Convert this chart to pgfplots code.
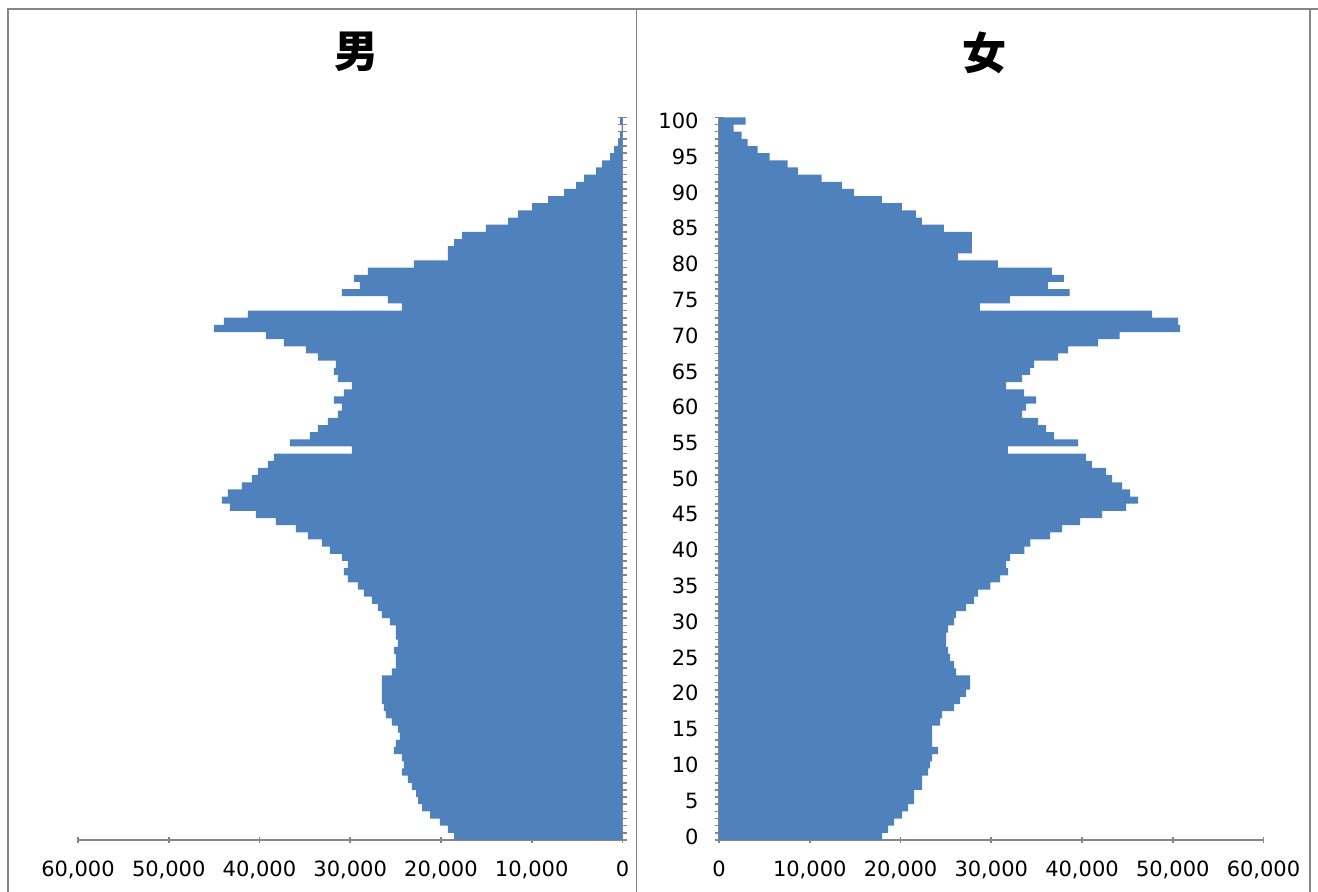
\documentclass[border=0pt]{standalone}
\usepackage{pgfplots}
\pgfplotsset{compat=1.18}
\usepackage{pgfplotstable}
\usepackage{fontspec}
\setmainfont{DejaVu Sans}
\newfontfamily\cjk{Noto Sans CJK JP}

\definecolor{barblue}{HTML}{4F81BD}
\definecolor{axgray}{HTML}{868686}

% population by single year of age (100 = 100+)
\pgfplotstableread{
age male female
0 18560 17980
1 19230 18640
2 20110 19300
3 21210 20180
4 22090 20840
5 22530 21510
6 22750 21510
7 23200 22390
8 23640 22390
9 24300 23050
10 24080 23270
11 24300 23490
12 25180 24150
13 24960 23490
14 24520 23490
15 24740 23490
16 25400 24370
17 26060 24590
18 26280 25920
19 26500 26580
20 26500 27240
21 26500 27680
22 26500 27680
23 25400 26140
24 24960 25920
25 24960 25480
26 25180 25250
27 24740 25030
28 24960 25030
29 24960 25250
30 25620 25920
31 26500 26140
32 26950 27240
33 27610 28120
34 28490 28560
35 29150 29890
36 30250 30990
37 30700 31870
38 30250 31650
39 30920 32090
40 32240 33640
41 33120 34300
42 34670 36500
43 35990 37820
44 38190 39780
45 40400 42210
46 43270 44860
47 44150 46180
48 43490 45300
49 41940 44410
50 40840 43310
51 40180 42650
52 39080 41100
53 38410 40440
54 29810 31840
55 36650 39560
56 34440 36920
57 33560 36040
58 32460 35160
59 31360 33400
60 30920 33850
61 31800 34950
62 30700 33630
63 29810 31630
64 31360 33400
65 31800 34280
66 31580 34720
67 33560 37370
68 34890 38460
69 37310 41770
70 39300 44150
71 45030 50810
72 43930 50590
73 41280 47720
74 24300 28750
75 25840 32040
76 30920 38640
77 28930 36270
78 29590 37990
79 28050 36690
80 22980 30730
81 19230 26320
82 19230 27860
83 18560 27860
84 17680 27860
85 15040 24780
86 12610 22350
87 11510 21690
88 9960 20150
89 8200 17940
90 6430 14850
91 5110 13530
92 4230 11320
93 2900 8680
94 2240 7570
95 1360 5590
96 920 4260
97 480 3160
98 260 2500
99 100 1620
100 260 2940
}\pop

\pgfplotsset{pyr/.style={
  scale only axis, width=272.25pt, height=361.3pt,
  xmin=0, xmax=60000, ymin=-0.5, ymax=100.5,
  tick align=outside,
  tick style={axgray, line width=0.8pt},
  major tick length=3.4pt, minor tick length=4.5pt,
  xtick={0,10000,...,60000}, scaled x ticks=false,
  xticklabel style={/pgf/number format/fixed, /pgf/number format/1000 sep={,}, yshift=-5pt},
  /pgf/number format/assume math mode=true,
  ytick={0,5,...,100},
  minor ytick={-0.5,0.5,...,100.5},
  major y tick style={draw=none},
  ticklabel style={font=\fontsize{10.5}{12}\selectfont, text=black},
  clip=false,
}}

\begin{document}
\begin{tikzpicture}
\useasboundingbox (0,0) rectangle (659pt,446pt);

% chart frames
\draw[axgray, line width=0.75pt] (4pt,0pt) -- (4pt,441.5pt) -- (659pt,441.5pt);
\draw[axgray, line width=0.75pt] (318.25pt,0pt) -- (318.25pt,441.5pt);
\draw[axgray, line width=0.75pt] (655pt,0pt) -- (655pt,441.5pt);

\node[font=\cjk\fontsize{22}{22}\selectfont\bfseries] at (178pt,420pt) {男};
\node[font=\cjk\fontsize{22}{22}\selectfont\bfseries] at (492pt,419.5pt) {女};

% male
\begin{axis}[pyr, at={(39pt,26pt)}, anchor=south west, x dir=reverse,
  axis x line=bottom, axis y line=right,
  axis line style={axgray, line width=0.8pt, -},
  yticklabels={}]
  \addplot[xbar, bar width=1, fill=barblue, draw=none] table[x=male, y=age] {\pop};
\end{axis}

% female
\begin{axis}[pyr, at={(359.5pt,26pt)}, anchor=south west,
  axis x line=bottom, axis y line=left,
  axis line style={axgray, line width=0.8pt, -},
  yticklabel style={xshift=-5pt}]
  \addplot[xbar, bar width=1, fill=barblue, draw=none] table[x=female, y=age] {\pop};
\end{axis}
\end{tikzpicture}
\end{document}
